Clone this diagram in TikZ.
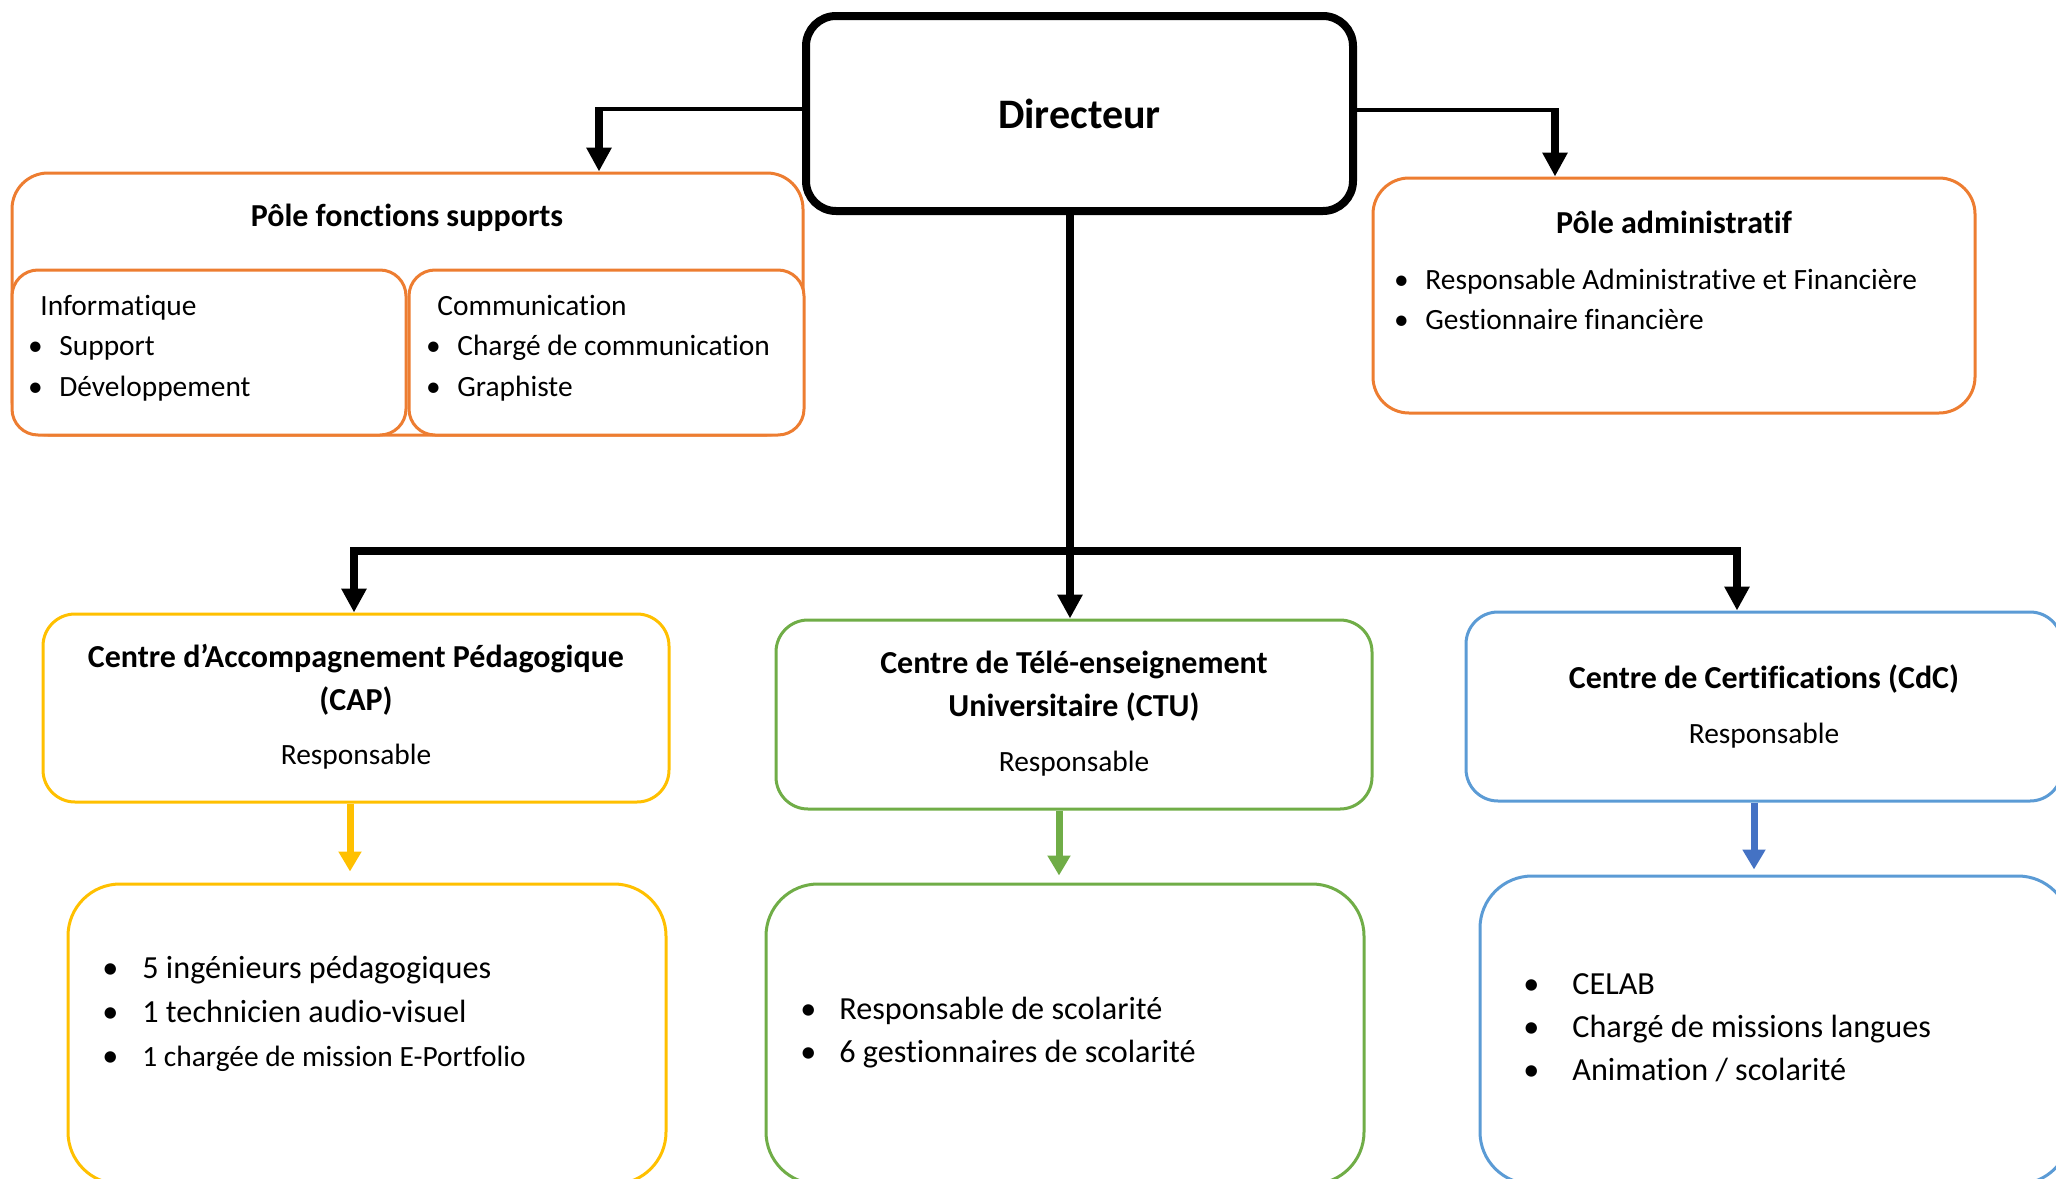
\documentclass[tikz,border=0pt]{standalone}
\usepackage{fontspec}
\setmainfont{Carlito}[Ligatures=NoCommon]
\usepackage{xcolor}
\usetikzlibrary{arrows.meta}
\definecolor{orangeP}{HTML}{ED7D31}
\definecolor{jauneP}{HTML}{FFC000}
\definecolor{vertP}{HTML}{70AD47}
\definecolor{bleuP}{HTML}{5B9BD5}
\definecolor{bleuF}{HTML}{4472C4}
\newcommand{\corps}{\fontsize{14.7}{20}\selectfont}
\newcommand{\grandcorps}{\fontsize{16.1}{21}\selectfont}
\newcommand{\grasT}{\fontsize{16}{21.5}\selectfont\bfseries}
\tikzset{
  boite/.style={draw=#1, fill=white, line width=1.5pt, rounded corners=16pt, inner sep=0pt},
  lien/.style={line width=2pt},
  tige/.style={line width=4pt, -{Triangle[width=12pt,length=12pt]}},
  fleche/.style={draw=#1, line width=3.5pt, -{Triangle[width=11pt,length=10pt]}},
  titre/.style={inner sep=0pt, font=\grasT, align=center},
  texte/.style={inner sep=0pt, font=\corps},
  puce/.style={anchor=base west, inner sep=0pt, font=\corps},
  grandepuce/.style={puce, font=\grandcorps},
}

\begin{document}
\begin{tikzpicture}[x=0.5pt, y=-0.5pt]
\useasboundingbox (0,0) rectangle (2056,1178);

% Directeur
\node[draw, line width=4pt, rounded corners=15pt, minimum width=273.5pt, minimum height=97.5pt,
  font=\fontsize{21}{25}\selectfont\bfseries] (dir) at (1079.5,113.5) {Directeur};

% pole fonctions supports
\node[boite=orangeP, minimum width=395.5pt, minimum height=131pt, rounded corners=18pt] (pfs) at (407.5,304) {};
\node[titre] (pfsT) at (407,218) {Pôle fonctions supports};
\node[boite=orangeP, minimum width=197pt, minimum height=82.5pt, rounded corners=13pt] (info) at (209,352.5) {};
\node[boite=orangeP, minimum width=197.5pt, minimum height=82.5pt, rounded corners=13pt] (comm) at (606.5,352.5) {};
\node[puce] (infoT) at (40,315) {Informatique};
\node[puce] (commT) at (437,315) {Communication};
\foreach \t [count=\i] in {Support, Développement}
  \node[puce] (info\i) at (35,{355+41*(\i-1)}) {\makebox[0pt]{\textbullet}\hspace{12pt}\t};
\foreach \t [count=\i] in {Chargé de communication, Graphiste}
  \node[puce] (comm\i) at (433,{355+41*(\i-1)}) {\makebox[0pt]{\textbullet}\hspace{12pt}\t};

% pole administratif
\node[boite=orangeP, minimum width=301pt, minimum height=117.5pt, rounded corners=18pt] (adm) at (1674,295.5) {};
\node[titre] (admT) at (1674,222) {Pôle administratif};
\foreach \t [count=\i] in {Responsable Administrative et Financière, Gestionnaire financière}
  \node[puce] (adm\i) at (1401,{289+40*(\i-1)}) {\makebox[0pt]{\textbullet}\hspace{12pt}\t};

% centres
\node[boite=jauneP, minimum width=313pt, minimum height=94pt] (cap) at (356,708) {};
\node[titre] (capT) at (356,679.5) {Centre d’Accompagnement Pédagogique\\(CAP)};
\node[texte] (capR) at (356,757) {Responsable};
\node[boite=vertP, minimum width=298pt, minimum height=94.5pt] (ctu) at (1074,714.5) {};
\node[titre] (ctuT) at (1074,686.5) {Centre de Télé-enseignement\\Universitaire (CTU)};
\node[texte] (ctuR) at (1074,764) {Responsable};
\node[boite=bleuP, minimum width=298pt, minimum height=94.5pt] (cdc) at (1764,706.5) {};
\node[titre] (cdcT) at (1764,679) {Centre de Certifications (CdC)};
\node[texte] (cdcR) at (1764,736) {Responsable};

% equipes
\node[boite=jauneP, minimum width=299pt, minimum height=150pt, rounded corners=26pt] (capL) at (367,1034) {};
\foreach \t [count=\i] in {5 ingénieurs pédagogiques, 1 technicien audio-visuel, {\corps 1 chargée de mission E-Portfolio}}
  \node[grandepuce] (capL\i) at (110,{978+44*(\i-1)}) {\makebox[0pt]{\textbullet}\hspace{16pt}\t};
\node[boite=vertP, minimum width=299pt, minimum height=150pt, rounded corners=26pt] (ctuL) at (1065,1034) {};
\foreach \t [count=\i] in {Responsable de scolarité, 6 gestionnaires de scolarité}
  \node[grandepuce] (ctuL\i) at (808,{1019+43*(\i-1)}) {\makebox[0pt]{\textbullet}\hspace{15.5pt}\t};
\node[boite=bleuP, minimum width=295pt, minimum height=154pt, rounded corners=26pt] (cdcL) at (1775,1030) {};
\foreach \t [count=\i] in {CELAB, Chargé de missions langues, Animation / scolarité}
  \node[grandepuce] (cdcL\i) at (1531,{994+43*(\i-1)}) {\makebox[0pt]{\textbullet}\hspace{20.5pt}\t};

% liaisons
\coordinate (coinG) at (599,109);
\coordinate (coinD) at (1555,110);
\draw[lien] (dir.west |- coinG) -- (coinG);
\draw[tige] ([yshift=1pt]coinG) -- (coinG |- pfs.north);
\draw[lien] (dir.east |- coinD) -- (coinD);
\draw[tige] ([yshift=1pt]coinD) -- (coinD |- adm.north);

\coordinate (barG) at (354,551);
\coordinate (barC) at (1070,551);
\coordinate (barD) at (1737,551);
\draw[tige] (dir.south -| barC) -- (barC |- ctu.north);
\draw[line width=4pt, {Triangle[width=12pt,length=12pt]}-{Triangle[width=12pt,length=12pt]}]
  (barG |- cap.north) -- (barG) -- (barD) -- (barD |- cdc.north);

\coordinate (fJ) at (350,0);
\coordinate (fV) at (1059,0);
\coordinate (fB) at (1754,0);
\draw[fleche=jauneP, shorten >=5.5pt] (cap.south -| fJ) -- (capL.north -| fJ);
\draw[fleche=vertP, shorten >=3.5pt] (ctu.south -| fV) -- (ctuL.north -| fV);
\draw[fleche=bleuF, shorten >=2.5pt] (cdc.south -| fB) -- (cdcL.north -| fB);
\end{tikzpicture}
\end{document}
